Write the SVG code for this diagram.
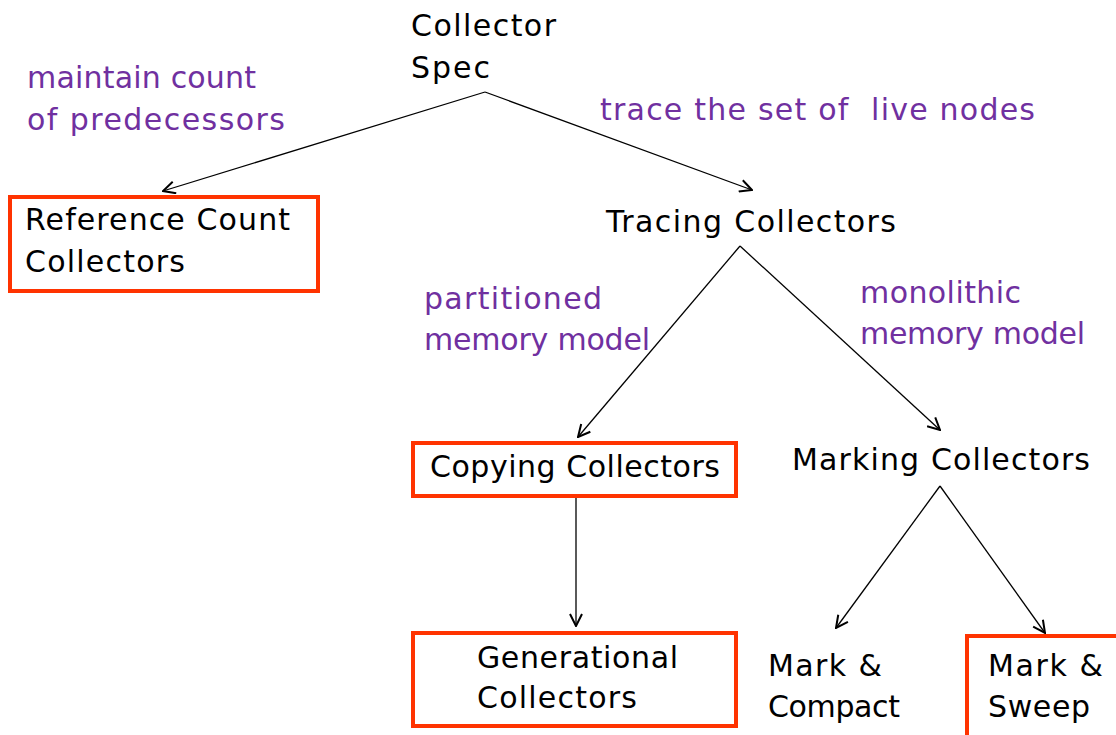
<svg xmlns="http://www.w3.org/2000/svg" width="1116" height="735" viewBox="0 0 1116 735">
<style>
  text { font-family: "DejaVu Sans", "Noto Sans", sans-serif; font-size: 30px; }
  .n { fill: #000; }
  .l { fill: #7030A0; }
  .box { fill: #fff; stroke: #FF3300; stroke-width: 4; }
  .c { stroke: #000; stroke-width: 1.3; fill: none; marker-end: url(#arr); }
</style>
<defs>
  <marker id="arr" viewBox="0 0 14 14" refX="13" refY="7" markerWidth="14" markerHeight="14" markerUnits="userSpaceOnUse" orient="auto">
    <path d="M1,1 L13,7 L1,13" fill="none" stroke="#000" stroke-width="2"/>
  </marker>
</defs>
<rect width="1116" height="735" fill="#fff"/>
<g id="connectors">
  <path class="c" d="M485,92 L163,191"/>
  <path class="c" d="M485,92 L752,190"/>
  <path class="c" d="M740,246 L578,437"/>
  <path class="c" d="M740,246 L940,430"/>
  <path class="c" d="M576,497 L576,626"/>
  <path class="c" d="M940,486 L836,628"/>
  <path class="c" d="M940,486 L1045,633"/>
</g>
<g id="labels">
  <text class="l" x="27" y="88" textLength="229">maintain count</text>
  <text class="l" x="27" y="130" textLength="258">of predecessors</text>
  <text class="l" x="600" y="120" textLength="435" xml:space="preserve">trace the set of  live nodes</text>
  <text class="l" x="424" y="309" textLength="178">partitioned</text>
  <text class="l" x="424" y="350" textLength="226">memory model</text>
  <text class="l" x="860" y="303" textLength="161">monolithic</text>
  <text class="l" x="860" y="344" textLength="225">memory model</text>
</g>
<g id="collector-spec">
  <text class="n" x="411" y="36" textLength="145">Collector</text>
  <text class="n" x="411" y="78" textLength="79">Spec</text>
</g>
<g id="reference-count">
  <rect class="box" x="10" y="197" width="308" height="94"/>
  <text class="n" x="25" y="230" textLength="265">Reference Count</text>
  <text class="n" x="25" y="272" textLength="160">Collectors</text>
</g>
<g id="tracing">
  <text class="n" x="606" y="232" textLength="290">Tracing Collectors</text>
</g>
<g id="copying">
  <rect class="box" x="413" y="443" width="323" height="53"/>
  <text class="n" x="430" y="477" textLength="290">Copying Collectors</text>
</g>
<g id="marking">
  <text class="n" x="792" y="470" textLength="298">Marking Collectors</text>
</g>
<g id="generational">
  <rect class="box" x="413" y="633" width="323" height="93"/>
  <text class="n" x="477" y="668" textLength="201">Generational</text>
  <text class="n" x="477" y="708" textLength="160">Collectors</text>
</g>
<g id="mark-compact">
  <text class="n" x="768" y="676" textLength="114">Mark &amp;</text>
  <text class="n" x="768" y="717" textLength="132">Compact</text>
</g>
<g id="mark-sweep">
  <rect class="box" x="967" y="636" width="160" height="110"/>
  <text class="n" x="988" y="676" textLength="115">Mark &amp;</text>
  <text class="n" x="988" y="717" textLength="102">Sweep</text>
</g>
</svg>
